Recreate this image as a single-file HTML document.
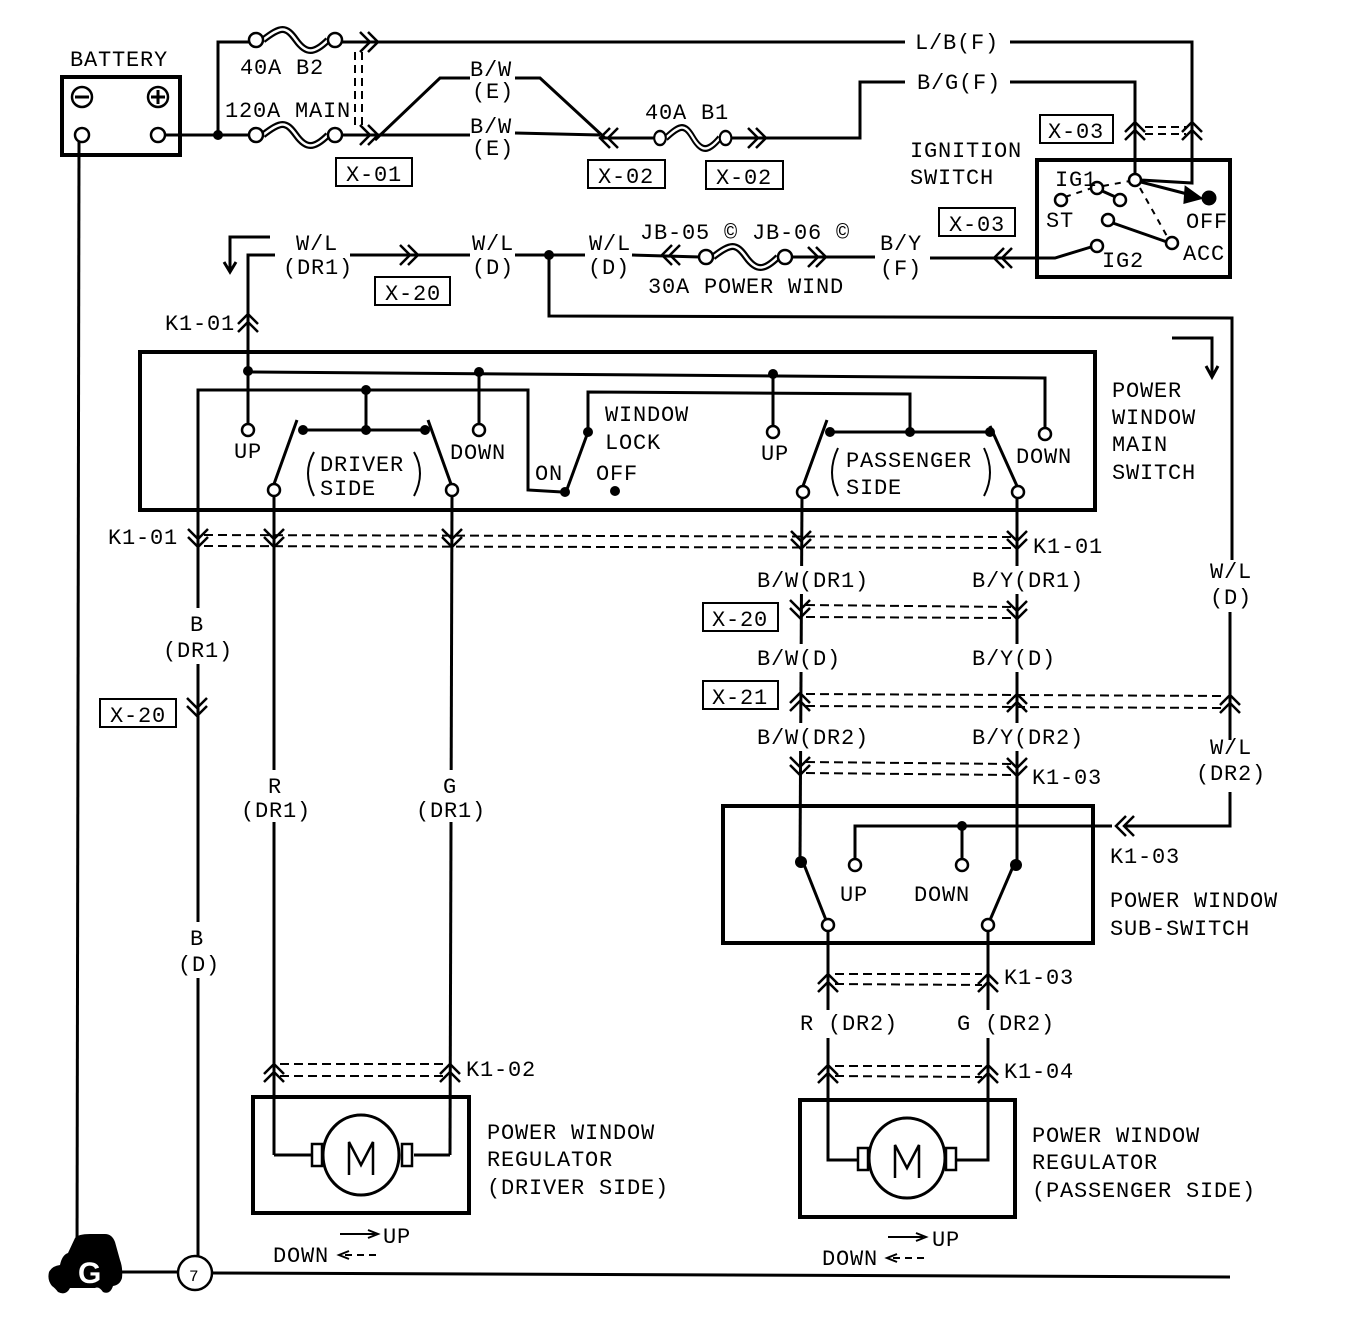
<!DOCTYPE html>
<html><head><meta charset="utf-8"><style>
html,body{margin:0;padding:0;background:#fff;}
svg{display:block;}
text{font-family:"Liberation Mono",monospace;font-size:22px;letter-spacing:0.8px;fill:#000;}
</style></head><body>
<svg width="1346" height="1344" viewBox="0 0 1346 1344" xmlns="http://www.w3.org/2000/svg">
<defs>
<path id="cr" d="M-12,-10 L-2,0 L-12,10 M-4,-10 L6,0 L-4,10" fill="none" stroke="#000" stroke-width="2.5"/>
<path id="cl" d="M12,-10 L2,0 L12,10 M4,-10 L-6,0 L4,10" fill="none" stroke="#000" stroke-width="2.5"/>
<path id="cd" d="M-10,-12 L0,-2 L10,-12 M-10,-4 L0,6 L10,-4" fill="none" stroke="#000" stroke-width="2.5"/>
<path id="cu" d="M-10,12 L0,2 L10,12 M-10,4 L0,-6 L10,4" fill="none" stroke="#000" stroke-width="2.5"/>
<g id="fuse"><path d="M7,0 C25,-14 30,-14 40,0 S58,14 72,0" fill="none" stroke="#000" stroke-width="7"/><path d="M7,0 C25,-14 30,-14 40,0 S58,14 72,0" fill="none" stroke="#fff" stroke-width="2.5"/><circle cx="0" cy="0" r="7" fill="#fff" stroke="#000" stroke-width="2.5"/><circle cx="79" cy="0" r="7" fill="#fff" stroke="#000" stroke-width="2.5"/></g>
</defs>
<g fill="none" stroke="#000" stroke-width="3">
<rect x="62" y="77" width="118" height="78" stroke-width="4"/>
<circle cx="82" cy="97" r="10" stroke-width="2.5"/><line x1="75" y1="97" x2="89" y2="97"/>
<circle cx="158" cy="97" r="10" stroke-width="2.5"/><line x1="151" y1="97" x2="165" y2="97"/><line x1="158" y1="90" x2="158" y2="104"/>
<circle cx="82" cy="135" r="7" stroke-width="2.5"/><circle cx="158" cy="135" r="7" stroke-width="2.5"/>
<line x1="79" y1="142" x2="77" y2="1262"/>
<polyline points="165,135 250,135"/>
<polyline points="218,135 218,42 250,42"/>
<line x1="340" y1="42" x2="1192" y2="42"/>
<line x1="340" y1="135" x2="375" y2="135"/>
<polyline points="1003,42 1192,42 1192,183 1140,180"/>
<line x1="375" y1="135" x2="470" y2="135"/>
<polyline points="375,140 440,78 470,78"/>
<polyline points="515,78 540,78 605,138"/>
<line x1="515" y1="133" x2="600" y2="135"/>
<line x1="600" y1="138" x2="655" y2="138"/>
<polyline points="730,138 860,138 860,82 915,82"/>
<polyline points="1003,82 1135,82 1135,173"/>
<g stroke-width="2" stroke-dasharray="8,5"><line x1="355" y1="52" x2="355" y2="125"/><line x1="362" y1="52" x2="362" y2="125"/>
<line x1="1145" y1="127" x2="1186" y2="127"/><line x1="1145" y1="134" x2="1186" y2="134"/></g>
<rect x="1037" y="160" width="193" height="117" stroke-width="4"/>
<line x1="1141" y1="182" x2="1195" y2="196"/>
<polygon points="1186,188 1200,198 1185,202" fill="#000"/>
<circle cx="1209" cy="198" r="6" fill="#000"/>
<line x1="1100" y1="190" x2="1120" y2="199"/>
<line x1="1110" y1="222" x2="1167" y2="242"/>
<g stroke-width="2" stroke-dasharray="6,6"><line x1="1065" y1="197" x2="1092" y2="188"/><line x1="1103" y1="186" x2="1130" y2="181"/><line x1="1140" y1="188" x2="1168" y2="238"/></g>
<circle cx="1135" cy="180" r="6" fill="#fff" stroke-width="2.5"/>
<circle cx="1097" cy="188" r="6" fill="#fff" stroke-width="2.5"/>
<circle cx="1120" cy="200" r="6" fill="#fff" stroke-width="2.5"/>
<circle cx="1061" cy="200" r="6" fill="#fff" stroke-width="2.5"/>
<circle cx="1108" cy="220" r="6" fill="#fff" stroke-width="2.5"/>
<circle cx="1172" cy="243" r="6" fill="#fff" stroke-width="2.5"/>
<circle cx="1097" cy="246" r="6" fill="#fff" stroke-width="2.5"/>
<polyline points="930,258 1055,258 1091,247"/>
<polyline points="230,270 230,237 270,237"/>
<polyline points="224,262 230,272 236,262"/>
<polyline points="248,370 248,255 275,255"/>
<line x1="350" y1="255" x2="470" y2="255"/>
<line x1="515" y1="255" x2="585" y2="255"/>
<line x1="632" y1="255" x2="700" y2="257"/>
<line x1="790" y1="257" x2="875" y2="257"/>
<polyline points="549,255 549,316 1232,318 1232,560"/>
<polyline points="1172,338 1212,338 1212,376"/>
<polyline points="1206,366 1212,377 1218,366"/>
<rect x="140" y="352" width="955" height="158" stroke-width="4"/>
<polyline points="248,372 1045,378 1045,428"/>
<line x1="248" y1="372" x2="248" y2="424"/>
<line x1="479" y1="372" x2="479" y2="424"/>
<line x1="773" y1="374" x2="773" y2="426"/>
<polyline points="198,1256 198,390 528,390 528,490 562,492"/>
<line x1="366" y1="390" x2="366" y2="430"/>
<line x1="303" y1="430" x2="425" y2="430"/>
<line x1="297" y1="420" x2="274" y2="484"/>
<line x1="428" y1="420" x2="451" y2="484"/>
<polyline points="588,432 588,392 910,394 910,432"/>
<line x1="588" y1="432" x2="566" y2="492"/>
<line x1="830" y1="432" x2="990" y2="432"/>
<line x1="827" y1="420" x2="803" y2="486"/>
<line x1="990" y1="426" x2="1017" y2="486"/>
<path d="M314,452 Q302,473 314,496 M414,452 Q426,473 414,496 M838,448 Q826,473 838,496 M984,448 Q996,473 984,496" stroke-width="2"/>
<circle cx="248" cy="430" r="6" fill="#fff" stroke-width="2.5"/>
<circle cx="479" cy="430" r="6" fill="#fff" stroke-width="2.5"/>
<circle cx="773" cy="432" r="6" fill="#fff" stroke-width="2.5"/>
<circle cx="1045" cy="434" r="6" fill="#fff" stroke-width="2.5"/>
<line x1="274" y1="496" x2="274" y2="1155"/>
<line x1="452" y1="496" x2="450" y2="1155"/>
<line x1="802" y1="496" x2="800" y2="862"/>
<line x1="1017" y1="496" x2="1017" y2="862"/>
<circle cx="274" cy="490" r="6" fill="#fff" stroke-width="2.5"/>
<circle cx="452" cy="490" r="6" fill="#fff" stroke-width="2.5"/>
<circle cx="803" cy="492" r="6" fill="#fff" stroke-width="2.5"/>
<circle cx="1018" cy="492" r="6" fill="#fff" stroke-width="2.5"/>
<g stroke-width="2" stroke-dasharray="9,5">
<line x1="204" y1="535" x2="1012" y2="537"/><line x1="204" y1="546" x2="1012" y2="548"/>
<line x1="806" y1="605" x2="1012" y2="607"/><line x1="806" y1="617" x2="1012" y2="618"/>
<line x1="806" y1="694" x2="1225" y2="696"/><line x1="806" y1="706" x2="1225" y2="708"/>
<line x1="806" y1="762" x2="1012" y2="764"/><line x1="806" y1="773" x2="1012" y2="775"/>
<line x1="835" y1="974" x2="982" y2="974"/><line x1="835" y1="984" x2="982" y2="985"/>
<line x1="835" y1="1066" x2="982" y2="1066"/><line x1="835" y1="1076" x2="982" y2="1077"/>
<line x1="280" y1="1064" x2="444" y2="1064"/><line x1="280" y1="1076" x2="444" y2="1076"/>
</g>
<line x1="1230" y1="612" x2="1230" y2="740"/>
<polyline points="1230,792 1230,826 1125,826"/>
<polyline points="1112,826 855,826 855,860"/>
<line x1="962" y1="826" x2="962" y2="860"/>
<rect x="723" y="806" width="370" height="137" stroke-width="4"/>
<line x1="803" y1="862" x2="826" y2="920"/>
<line x1="1015" y1="862" x2="990" y2="920"/>
<circle cx="855" cy="865" r="6" fill="#fff" stroke-width="2.5"/>
<circle cx="962" cy="865" r="6" fill="#fff" stroke-width="2.5"/>
<line x1="828" y1="931" x2="828" y2="1010"/>
<line x1="988" y1="931" x2="988" y2="1010"/>
<circle cx="828" cy="925" r="6" fill="#fff" stroke-width="2.5"/>
<circle cx="988" cy="925" r="6" fill="#fff" stroke-width="2.5"/>
<polyline points="828,1038 828,1160 858,1160"/>
<polyline points="988,1038 988,1160 956,1160"/>
<rect x="800" y="1100" width="215" height="117" stroke-width="4"/>
<ellipse cx="907" cy="1158" rx="38" ry="40" stroke-width="3"/>
<rect x="858" y="1148" width="10" height="22" stroke-width="2.5"/>
<rect x="946" y="1148" width="10" height="22" stroke-width="2.5"/>
<polyline points="274,1155 312,1155"/><polyline points="450,1155 414,1155"/>
<rect x="253" y="1097" width="216" height="116" stroke-width="4"/>
<ellipse cx="361" cy="1155" rx="38" ry="40" stroke-width="3"/>
<rect x="312" y="1144" width="10" height="22" stroke-width="2.5"/>
<rect x="402" y="1144" width="10" height="22" stroke-width="2.5"/>
<path d="M349,1175 V1142 L361,1165 L373,1142 V1175 M895,1178 V1145 L907,1168 L919,1145 V1178" stroke-width="2.5"/>
<line x1="110" y1="1272" x2="178" y2="1272"/>
<line x1="212" y1="1273" x2="1230" y2="1277"/>
<circle cx="195" cy="1273" r="17" stroke-width="2.5"/>
<line x1="340" y1="1234" x2="375" y2="1234" stroke-width="2"/><polyline points="368,1230 378,1234 368,1238" stroke-width="2"/>
<line x1="345" y1="1255" x2="380" y2="1255" stroke-width="2" stroke-dasharray="7,5"/><polyline points="349,1251 339,1255 349,1259" stroke-width="2"/>
<line x1="888" y1="1237" x2="923" y2="1237" stroke-width="2"/><polyline points="916,1233 926,1237 916,1241" stroke-width="2"/>
<line x1="893" y1="1258" x2="928" y2="1258" stroke-width="2" stroke-dasharray="7,5"/><polyline points="897,1254 887,1258 897,1262" stroke-width="2"/>
<g stroke-width="2"><rect x="336" y="158" width="76" height="28"/><rect x="588" y="160" width="77" height="28"/><rect x="706" y="161" width="77" height="28"/><rect x="1040" y="115" width="73" height="28"/><rect x="939" y="208" width="76" height="28"/><rect x="375" y="277" width="75" height="28"/><rect x="100" y="699" width="76" height="28"/><rect x="703" y="603" width="75" height="28"/><rect x="703" y="681" width="75" height="28"/></g>
</g>
<!-- label gaps -->
<g fill="#fff">
<rect x="905" y="30" width="105" height="24"/><rect x="905" y="70" width="105" height="24"/>
<rect x="160" y="608" width="75" height="56"/><rect x="170" y="922" width="55" height="56"/>
<rect x="238" y="770" width="75" height="52"/><rect x="412" y="770" width="75" height="52"/>
<rect x="752" y="566" width="130" height="28"/><rect x="967" y="566" width="130" height="28"/>
<rect x="752" y="644" width="110" height="28"/><rect x="967" y="644" width="110" height="28"/>
<rect x="752" y="723" width="130" height="28"/><rect x="967" y="723" width="130" height="28"/>
</g>
<use href="#fuse" x="256" y="40"/>
<use href="#fuse" x="256" y="135"/>
<use href="#fuse" x="660" y="138" transform="translate(660 138) scale(0.83 1) translate(-660 -138)"/>
<use href="#fuse" x="706" y="257"/>
<use href="#cr" x="372" y="42"/><use href="#cr" x="372" y="135"/>
<use href="#cl" x="606" y="138"/><use href="#cr" x="760" y="138"/>
<use href="#cu" x="1135" y="128"/><use href="#cu" x="1192" y="128"/>
<use href="#cl" x="1000" y="258"/>
<use href="#cr" x="412" y="255"/><use href="#cl" x="668" y="255"/><use href="#cr" x="820" y="257"/>
<use href="#cu" x="248" y="320"/>
<use href="#cd" x="198" y="541"/><use href="#cd" x="274" y="541"/><use href="#cd" x="452" y="541"/><use href="#cd" x="801" y="543"/><use href="#cd" x="1017" y="543"/>
<use href="#cd" x="800" y="612"/><use href="#cd" x="1017" y="613"/>
<use href="#cu" x="800" y="699"/><use href="#cu" x="1017" y="700"/><use href="#cu" x="1230" y="701"/>
<use href="#cd" x="800" y="769"/><use href="#cd" x="1017" y="770"/>
<use href="#cl" x="1122" y="826"/>
<use href="#cu" x="828" y="980"/><use href="#cu" x="988" y="980"/>
<use href="#cu" x="828" y="1071"/><use href="#cu" x="988" y="1071"/>
<use href="#cu" x="274" y="1070"/><use href="#cu" x="450" y="1070"/>
<use href="#cd" x="197" y="710"/>
<g fill="#000">
<circle cx="218" cy="135" r="5"/><circle cx="549" cy="255" r="5"/>
<circle cx="248" cy="371" r="5"/><circle cx="479" cy="372" r="5"/><circle cx="773" cy="374" r="5"/>
<circle cx="366" cy="390" r="5"/><circle cx="303" cy="430" r="5"/><circle cx="366" cy="430" r="5"/><circle cx="425" cy="430" r="5"/>
<circle cx="588" cy="432" r="5"/><circle cx="565" cy="492" r="5"/><circle cx="615" cy="491" r="5"/>
<circle cx="830" cy="432" r="5"/><circle cx="910" cy="432" r="5"/><circle cx="990" cy="432" r="5"/>
<circle cx="962" cy="826" r="5"/><circle cx="801" cy="862" r="6"/><circle cx="1016" cy="865" r="6"/>
<path d="M60,1265 Q62,1255 68,1253 L75,1238 Q78,1234 90,1234 L105,1234 Q112,1234 115,1242 L120,1260 Q123,1268 122,1278 Q120,1285 113,1286 Q110,1295 103,1292 Q99,1286 95,1288 L70,1288 Q66,1296 58,1292 Q55,1288 52,1286 Q47,1280 49,1272 Q52,1266 60,1265 Z"/>
</g>
<text x="78" y="1283" style="font-family:'Liberation Sans',sans-serif;font-size:30px;font-weight:bold;fill:#fff;letter-spacing:0">G</text>
<text x="189" y="1281" style="font-size:16px;letter-spacing:0">7</text>
<text x="70" y="66">BATTERY</text>
<text x="240" y="74">40A B2</text>
<text x="225" y="117">120A MAIN</text>
<text x="470" y="76">B/W</text><text x="472" y="98">(E)</text>
<text x="470" y="133">B/W</text><text x="472" y="155">(E)</text>
<text x="645" y="119">40A B1</text>
<text x="346" y="181">X-01</text><text x="598" y="183">X-02</text><text x="716" y="184">X-02</text>
<text x="915" y="49">L/B(F)</text>
<text x="917" y="89">B/G(F)</text>
<text x="1048" y="138">X-03</text><text x="949" y="231">X-03</text>
<text x="910" y="157">IGNITION</text><text x="910" y="184">SWITCH</text>
<text x="1055" y="186">IG1</text><text x="1046" y="227">ST</text><text x="1186" y="228">OFF</text><text x="1183" y="260">ACC</text><text x="1102" y="267">IG2</text>
<text x="880" y="250">B/Y</text><text x="880" y="275">(F)</text>
<text x="296" y="250">W/L</text><text x="283" y="274">(DR1)</text>
<text x="472" y="250">W/L</text><text x="472" y="274">(D)</text>
<text x="589" y="250">W/L</text><text x="588" y="274">(D)</text>
<text x="385" y="300">X-20</text>
<text x="640" y="239">JB-05 ©  JB-06 ©</text>
<text x="648" y="293">30A POWER WIND</text>
<text x="165" y="330">K1-01</text>
<text x="234" y="458">UP</text><text x="320" y="471">DRIVER</text><text x="320" y="495">SIDE</text><text x="450" y="459">DOWN</text>
<text x="535" y="480">ON</text><text x="596" y="480">OFF</text><text x="605" y="421">WINDOW</text><text x="605" y="449">LOCK</text>
<text x="761" y="460">UP</text><text x="846" y="467">PASSENGER</text><text x="846" y="494">SIDE</text><text x="1016" y="463">DOWN</text>
<text x="1112" y="397">POWER</text><text x="1112" y="424">WINDOW</text><text x="1112" y="451">MAIN</text><text x="1112" y="479">SWITCH</text>
<text x="108" y="544">K1-01</text><text x="1033" y="553">K1-01</text>
<text x="757" y="587">B/W(DR1)</text><text x="972" y="587">B/Y(DR1)</text>
<text x="712" y="626">X-20</text><text x="712" y="704">X-21</text><text x="110" y="722">X-20</text>
<text x="757" y="665">B/W(D)</text><text x="972" y="665">B/Y(D)</text>
<text x="757" y="744">B/W(DR2)</text><text x="972" y="744">B/Y(DR2)</text>
<text x="1032" y="784">K1-03</text>
<text x="1210" y="578">W/L</text><text x="1210" y="604">(D)</text>
<text x="1210" y="754">W/L</text><text x="1196" y="780">(DR2)</text>
<text x="1110" y="863">K1-03</text>
<text x="840" y="901">UP</text><text x="914" y="901">DOWN</text>
<text x="1110" y="907">POWER WINDOW</text><text x="1110" y="935">SUB-SWITCH</text>
<text x="1004" y="984">K1-03</text>
<text x="800" y="1030">R (DR2)</text><text x="957" y="1030">G (DR2)</text>
<text x="1004" y="1078">K1-04</text>
<text x="190" y="631">B</text><text x="163" y="657">(DR1)</text>
<text x="190" y="945">B</text><text x="178" y="971">(D)</text>
<text x="268" y="793">R</text><text x="241" y="817">(DR1)</text>
<text x="443" y="793">G</text><text x="416" y="817">(DR1)</text>
<text x="466" y="1076">K1-02</text>
<text x="487" y="1139">POWER WINDOW</text><text x="487" y="1166">REGULATOR</text><text x="487" y="1194">(DRIVER SIDE)</text>
<text x="1032" y="1142">POWER WINDOW</text><text x="1032" y="1169">REGULATOR</text><text x="1032" y="1197">(PASSENGER SIDE)</text>
<text x="383" y="1243">UP</text><text x="273" y="1262">DOWN</text>
<text x="932" y="1246">UP</text><text x="822" y="1265">DOWN</text>
</svg>
</body></html>
